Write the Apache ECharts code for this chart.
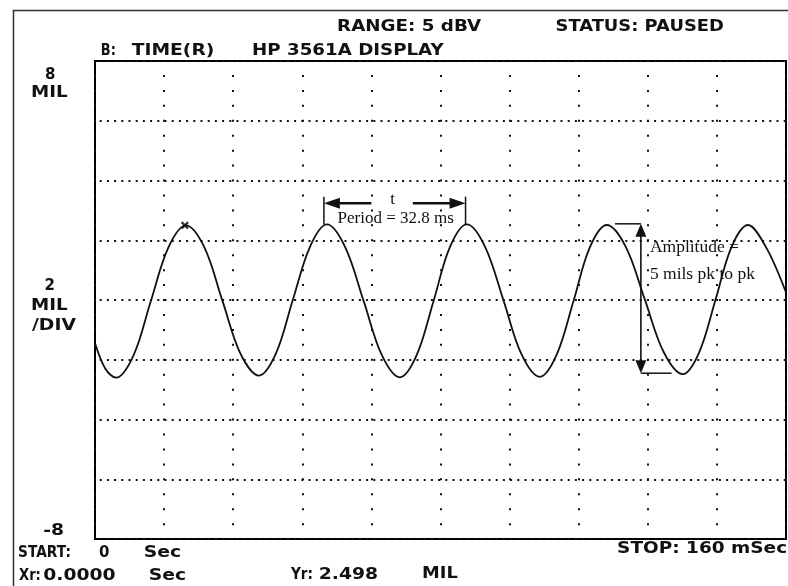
<!DOCTYPE html>
<html>
<head>
<meta charset="utf-8">
<script src="https://cdn.jsdelivr.net/npm/echarts@6/dist/echarts.min.js"></script>
<style>
html,body{margin:0;padding:0;background:#fff;}
#c{width:788px;height:586px;}
</style>
</head>
<body>
<div id="c"></div>
<script>
// Captured vibration trace: sweep time (ms) and displacement (mil)
const timeMs = [0, 2.4, 4.86, 8.9, 12.9, 17.0, 21.07, 25.3, 29.5, 33.7, 37.97, 41.9, 45.8, 49.8, 53.7,
  57.9, 62.2, 66.4, 70.6, 74.5, 78.4, 82.2, 86.1, 90.3, 94.6, 98.8, 103.0, 106.9, 110.8, 114.6, 118.5,
  122.9, 127.3, 131.7, 136.1, 139.9, 143.7, 147.4, 151.2, 155.4, 160];
const dispMil = [-1.44, -2.30, -2.60, -1.86, -0.05, 1.76, 2.498, 1.77, -0.02, -1.80, -2.53, -1.79, 0.00, 1.79, 2.53,
  1.78, -0.03, -1.84, -2.59, -1.84, -0.03, 1.78, 2.53, 1.79, -0.02, -1.83, -2.57, -1.83, -0.03, 1.77, 2.51,
  1.78, 0.02, -1.75, -2.48, -1.75, 0.02, 1.78, 2.51, 1.76, 0.25];

// Cursor marker (Yr readout)
const cursorMs = [20.8];
const cursorMil = [2.498];

// Display scale: 0..160 ms in 16 ms divisions, -8..8 mil at 2 mil/div
const xRange = [0, 160, 16];
const yRange = [-8, 8, 2];

// Period annotation (ms / mil)
const periodEnds = [53.0, 85.8];       // 32.8 ms apart
const periodGap = [64.0, 73.6];
const periodLevels = [2.53, 3.46, 3.24]; // tick base, tick top, arrow level

// Amplitude annotation (ms / mil)
const ampX = [120.4, 126.4, 133.5];    // top ledge start, arrow, bottom ledge end
const ampLevels = [2.55, -2.45];       // 5 mil pk to pk

// Instrument readout texts: [text, inkLeft, inkRight, capCenterY]
const readouts = [
  ['RANGE: 5 dBV', 338.3, 481.7, 27],
  ['STATUS: PAUSED', 556.7, 723.3, 27],
  ['B:', 101.7, 115, 50.8],
  ['TIME(R)', 131.7, 213.3, 50.8],
  ['HP 3561A DISPLAY', 253.3, 445, 50.8],
  ['8', 45, 55, 75],
  ['MIL', 32.3, 68.3, 93],
  ['2', 43.3, 56.7, 286],
  ['MIL', 32.3, 68.3, 306],
  ['/DIV', 32, 80, 326],
  ['-8', 43.3, 68.3, 531],
  ['START:', 19, 70, 553],
  ['0', 100, 108, 553],
  ['Sec', 145, 180, 553],
  ['STOP: 160 mSec', 618.3, 786, 549],
  ['Xr:', 19, 40, 576],
  ['0.0000', 43.3, 138.3, 576],
  ['Sec', 150, 185, 576],
  ['Yr:', 290, 312, 575],
  ['2.498', 320, 396.7, 575],
  ['MIL', 423.3, 458.3, 574]
];

const SANS = 'bold 15px "DejaVu Sans"';
const SERIF = '17.5px "Liberation Serif"';
const INK = '#111';

const mctx = document.createElement('canvas').getContext('2d');
function readoutText(item) {
  const [text, x0, x1, yc] = item;
  mctx.font = SANS;
  const m = mctx.measureText(text);
  const inkW = m.actualBoundingBoxRight + m.actualBoundingBoxLeft;
  let s = text.length > 1 ? (x1 - x0) / inkW : 1;
  s = Math.max(0.75, Math.min(1.25, s));
  let x = x0 + m.actualBoundingBoxLeft * s;
  if (text.length === 1) x = (x0 + x1) / 2 - (m.actualBoundingBoxRight - m.actualBoundingBoxLeft) / 2;
  return {
    type: 'text', x: x, y: yc, scaleX: s, z: 10, silent: true,
    style: { text: text, font: SANS, fill: INK, align: 'left', verticalAlign: 'middle' }
  };
}

const chart = echarts.init(document.getElementById('c'), null, { renderer: 'canvas' });

const option = {
  animation: false,
  backgroundColor: '#fff',
  grid: { left: 95, top: 61, width: 691, height: 478, show: true, borderColor: '#000', borderWidth: 2 },
  xAxis: {
    type: 'value', min: xRange[0], max: xRange[1], interval: xRange[2],
    axisLine: { show: false }, axisTick: { show: false }, axisLabel: { show: false },
    splitLine: { show: true, lineStyle: { color: INK, width: 2, type: [2, 12.94], dashOffset: 1 } }
  },
  yAxis: {
    type: 'value', min: yRange[0], max: yRange[1], interval: yRange[2],
    axisLine: { show: false }, axisTick: { show: false }, axisLabel: { show: false },
    splitLine: { show: true, lineStyle: { color: INK, width: 2, type: [2, 5.2], dashOffset: 2.5 } }
  },
  series: [
    {
      type: 'line', name: 'Displacement',
      data: timeMs.map((t, i) => [t, dispMil[i]]),
      showSymbol: false, smooth: 0.35, z: 3,
      lineStyle: { color: INK, width: 1.8 }
    },
    {
      type: 'scatter', name: 'Cursor',
      data: cursorMs.map((t, i) => [t, cursorMil[i]]),
      symbol: 'path://M0,2L2,0L5,3L8,0L10,2L7,5L10,8L8,10L5,7L2,10L0,8L3,5Z',
      symbolSize: 8, z: 4, itemStyle: { color: '#000' }
    }
  ],
  graphic: [
    {
      type: 'rect', silent: true, z: 1,
      shape: { x: 13.5, y: 10.5, width: 800, height: 600 },
      style: { fill: 'none', stroke: '#333', lineWidth: 1.5 }
    }
  ].concat(readouts.map(readoutText))
};
chart.setOption(option);

// Annotations placed through the chart's coordinate system
const P = (ms, mil) => chart.convertToPixel({ gridIndex: 0 }, [ms, mil]);
function seg(a, b, w) {
  return { type: 'line', silent: true, z: 6,
    shape: { x1: a[0], y1: a[1], x2: b[0], y2: b[1] },
    style: { stroke: INK, lineWidth: w } };
}
function head(tip, dx, dy, len, half) {
  const bx = tip[0] - dx * len, by = tip[1] - dy * len;
  const px = -dy, py = dx;
  return { type: 'polygon', silent: true, z: 6,
    shape: { points: [[tip[0], tip[1]], [bx + px * half, by + py * half], [bx - px * half, by - py * half]] },
    style: { fill: INK } };
}
function serif(text, x, y, align, font) {
  return { type: 'text', x: x, y: y, silent: true, z: 7,
    style: { text: text, font: font || SERIF, fill: INK, align: align, verticalAlign: 'middle' } };
}

const anno = [];
// period ticks and arrows
const L0 = P(periodEnds[0], periodLevels[0]), L1 = P(periodEnds[0], periodLevels[1]);
const R0 = P(periodEnds[1], periodLevels[0]), R1 = P(periodEnds[1], periodLevels[1]);
anno.push(seg(L0, L1, 1.5), seg(R0, R1, 1.5));
const la = P(periodEnds[0], periodLevels[2]), ra = P(periodEnds[1], periodLevels[2]);
const g0 = P(periodGap[0], periodLevels[2]), g1 = P(periodGap[1], periodLevels[2]);
anno.push(head(la, -1, 0, 16, 5.5), head(ra, 1, 0, 16, 5.5));
anno.push(seg([la[0] + 15, la[1]], g0, 2.5), seg(g1, [ra[0] - 15, ra[1]], 2.5));
const midX = (la[0] + ra[0]) / 2;
const PERIOD_FONT = '17px "Liberation Serif"';
anno.push(serif('t', midX - 2, la[1] - 4, 'center', PERIOD_FONT));
anno.push(serif('Period = 32.8 ms', midX + 1, la[1] + 15.5, 'center', PERIOD_FONT));

// amplitude arrow
const aTop = P(ampX[1], ampLevels[0]), aBot = P(ampX[1], ampLevels[1]);
anno.push(seg(P(ampX[0], ampLevels[0]), aTop, 1.5));
anno.push(seg(aBot, P(ampX[2], ampLevels[1]), 1.5));
anno.push(head(aTop, 0, -1, 13, 5.5), head(aBot, 0, 1, 13, 5.5));
anno.push(seg([aTop[0], aTop[1] + 12], [aBot[0], aBot[1] - 12], 1.6));
anno.push(serif('Amplitude =', aTop[0] + 9, P(0, 1.76)[1], 'left'));
anno.push(serif('5 mils pk to pk', aTop[0] + 9, P(0, 0.85)[1], 'left'));

chart.setOption({ graphic: option.graphic.concat(anno) });
</script>
</body>
</html>
